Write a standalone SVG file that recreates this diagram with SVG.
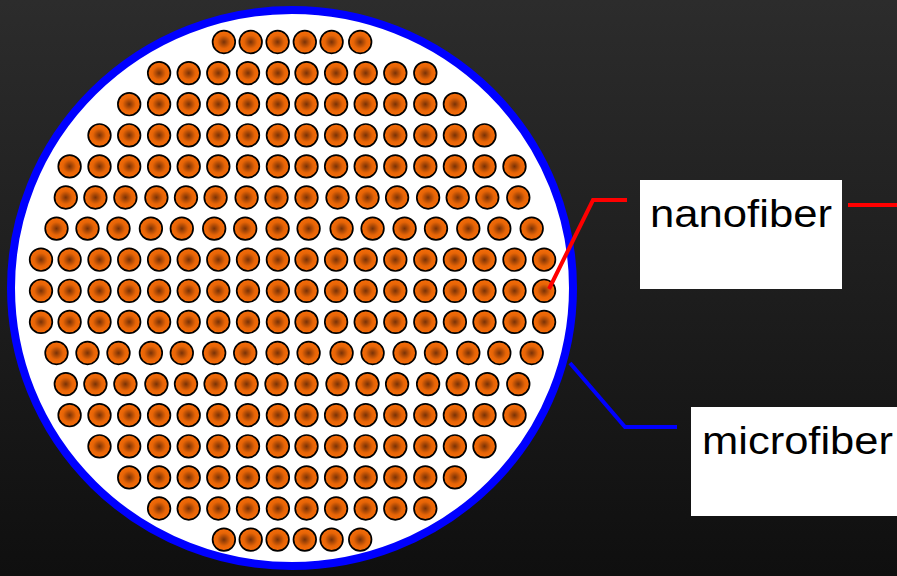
<svg xmlns="http://www.w3.org/2000/svg" xmlns:xlink="http://www.w3.org/1999/xlink" width="897" height="576" viewBox="0 0 897 576">
  <defs>
    <linearGradient id="bg" x1="0" y1="0" x2="0" y2="1">
      <stop offset="0" stop-color="#2c2c2c"/>
      <stop offset="1" stop-color="#0f0f0f"/>
    </linearGradient>
    <radialGradient id="core">
      <stop offset="0" stop-color="#7a3206"/>
      <stop offset="0.58" stop-color="#e66406"/>
      <stop offset="1" stop-color="#f86e0a"/>
    </radialGradient>
    <circle id="nf" class="nano" cx="0" cy="0" r="11.3"/>
  </defs>
  <style>
    .nano { fill: url(#core); stroke: #000; stroke-width: 1.7; }
    .label { fill: #fff; }
    .txt { font-family: "Liberation Sans", Arial, sans-serif; font-size: 38px; fill: #000; }
    .link { fill: none; stroke-width: 4; stroke-linejoin: miter; }
  </style>

  <rect width="897" height="576" fill="url(#bg)"/>

  <!-- outer sheath -->
  <g id="microfiber">
    <ellipse cx="292" cy="288" rx="281" ry="278" fill="#fff" stroke="#0000ff" stroke-width="8"/>
  </g>

  <!-- bundle of inner fibres, row by row -->
  <g id="nanofibers">
    <g id="row1">
      <use href="#nf" x="223.9" y="42"/><use href="#nf" x="250.7" y="42"/><use href="#nf" x="277.6" y="42"/><use href="#nf" x="304.8" y="42"/><use href="#nf" x="331.6" y="42"/><use href="#nf" x="360.2" y="42"/>
    </g>
    <g id="row2">
      <use href="#nf" x="159.1" y="73.1"/><use href="#nf" x="188.7" y="73.1"/><use href="#nf" x="218.3" y="73.1"/><use href="#nf" x="248" y="73.1"/><use href="#nf" x="277.9" y="73.1"/><use href="#nf" x="306.5" y="73.1"/><use href="#nf" x="336.1" y="73.1"/><use href="#nf" x="365.7" y="73.1"/><use href="#nf" x="395.3" y="73.1"/><use href="#nf" x="425.3" y="73.1"/>
    </g>
    <g id="row3">
      <use href="#nf" x="129.2" y="104.2"/><use href="#nf" x="159.1" y="104.2"/><use href="#nf" x="188.7" y="104.2"/><use href="#nf" x="218.3" y="104.2"/><use href="#nf" x="248" y="104.2"/><use href="#nf" x="277.9" y="104.2"/><use href="#nf" x="306.5" y="104.2"/><use href="#nf" x="336.1" y="104.2"/><use href="#nf" x="365.7" y="104.2"/><use href="#nf" x="395.3" y="104.2"/><use href="#nf" x="425.3" y="104.2"/><use href="#nf" x="454.9" y="104.2"/>
    </g>
    <g id="row4">
      <use href="#nf" x="99.5" y="135.3"/><use href="#nf" x="129.2" y="135.3"/><use href="#nf" x="159.1" y="135.3"/><use href="#nf" x="188.7" y="135.3"/><use href="#nf" x="218.3" y="135.3"/><use href="#nf" x="248" y="135.3"/><use href="#nf" x="277.9" y="135.3"/><use href="#nf" x="306.5" y="135.3"/><use href="#nf" x="336.1" y="135.3"/><use href="#nf" x="365.7" y="135.3"/><use href="#nf" x="395.3" y="135.3"/><use href="#nf" x="425.3" y="135.3"/><use href="#nf" x="454.9" y="135.3"/><use href="#nf" x="484.5" y="135.3"/>
    </g>
    <g id="row5">
      <use href="#nf" x="69.6" y="166.4"/><use href="#nf" x="99.5" y="166.4"/><use href="#nf" x="129.2" y="166.4"/><use href="#nf" x="159.1" y="166.4"/><use href="#nf" x="188.7" y="166.4"/><use href="#nf" x="218.3" y="166.4"/><use href="#nf" x="248" y="166.4"/><use href="#nf" x="277.9" y="166.4"/><use href="#nf" x="306.5" y="166.4"/><use href="#nf" x="336.1" y="166.4"/><use href="#nf" x="365.7" y="166.4"/><use href="#nf" x="395.3" y="166.4"/><use href="#nf" x="425.3" y="166.4"/><use href="#nf" x="454.9" y="166.4"/><use href="#nf" x="484.5" y="166.4"/><use href="#nf" x="514.5" y="166.4"/>
    </g>
    <g id="row6">
      <use href="#nf" x="65.8" y="197.5"/><use href="#nf" x="95.4" y="197.5"/><use href="#nf" x="125.4" y="197.5"/><use href="#nf" x="156.4" y="197.5"/><use href="#nf" x="186" y="197.5"/><use href="#nf" x="215.6" y="197.5"/><use href="#nf" x="246.6" y="197.5"/><use href="#nf" x="276.5" y="197.5"/><use href="#nf" x="306.5" y="197.5"/><use href="#nf" x="337.5" y="197.5"/><use href="#nf" x="367.5" y="197.5"/><use href="#nf" x="397.1" y="197.5"/><use href="#nf" x="428.1" y="197.5"/><use href="#nf" x="457.7" y="197.5"/><use href="#nf" x="487.3" y="197.5"/><use href="#nf" x="518.3" y="197.5"/>
    </g>
    <g id="row7">
      <use href="#nf" x="56.5" y="228.6"/><use href="#nf" x="87.5" y="228.6"/><use href="#nf" x="118.5" y="228.6"/><use href="#nf" x="150.9" y="228.6"/><use href="#nf" x="181.8" y="228.6"/><use href="#nf" x="214.2" y="228.6"/><use href="#nf" x="245.2" y="228.6"/><use href="#nf" x="277.6" y="228.6"/><use href="#nf" x="308.6" y="228.6"/><use href="#nf" x="341.6" y="228.6"/><use href="#nf" x="372.6" y="228.6"/><use href="#nf" x="404.6" y="228.6"/><use href="#nf" x="436" y="228.6"/><use href="#nf" x="468.3" y="228.6"/><use href="#nf" x="499.3" y="228.6"/><use href="#nf" x="531.7" y="228.6"/>
    </g>
    <g id="row8">
      <use href="#nf" x="41" y="259.7"/><use href="#nf" x="69.6" y="259.7"/><use href="#nf" x="99.5" y="259.7"/><use href="#nf" x="129.2" y="259.7"/><use href="#nf" x="159.1" y="259.7"/><use href="#nf" x="188.7" y="259.7"/><use href="#nf" x="218.3" y="259.7"/><use href="#nf" x="248" y="259.7"/><use href="#nf" x="277.9" y="259.7"/><use href="#nf" x="306.5" y="259.7"/><use href="#nf" x="336.1" y="259.7"/><use href="#nf" x="365.7" y="259.7"/><use href="#nf" x="395.3" y="259.7"/><use href="#nf" x="425.3" y="259.7"/><use href="#nf" x="454.9" y="259.7"/><use href="#nf" x="484.5" y="259.7"/><use href="#nf" x="514.5" y="259.7"/><use href="#nf" x="544.1" y="259.7"/>
    </g>
    <g id="row9">
      <use href="#nf" x="41" y="290.8"/><use href="#nf" x="69.6" y="290.8"/><use href="#nf" x="99.5" y="290.8"/><use href="#nf" x="129.2" y="290.8"/><use href="#nf" x="159.1" y="290.8"/><use href="#nf" x="188.7" y="290.8"/><use href="#nf" x="218.3" y="290.8"/><use href="#nf" x="248" y="290.8"/><use href="#nf" x="277.9" y="290.8"/><use href="#nf" x="306.5" y="290.8"/><use href="#nf" x="336.1" y="290.8"/><use href="#nf" x="365.7" y="290.8"/><use href="#nf" x="395.3" y="290.8"/><use href="#nf" x="425.3" y="290.8"/><use href="#nf" x="454.9" y="290.8"/><use href="#nf" x="484.5" y="290.8"/><use href="#nf" x="514.5" y="290.8"/><use href="#nf" x="544.1" y="290.8"/>
    </g>
    <g id="row10">
      <use href="#nf" x="41" y="321.9"/><use href="#nf" x="69.6" y="321.9"/><use href="#nf" x="99.5" y="321.9"/><use href="#nf" x="129.2" y="321.9"/><use href="#nf" x="159.1" y="321.9"/><use href="#nf" x="188.7" y="321.9"/><use href="#nf" x="218.3" y="321.9"/><use href="#nf" x="248" y="321.9"/><use href="#nf" x="277.9" y="321.9"/><use href="#nf" x="306.5" y="321.9"/><use href="#nf" x="336.1" y="321.9"/><use href="#nf" x="365.7" y="321.9"/><use href="#nf" x="395.3" y="321.9"/><use href="#nf" x="425.3" y="321.9"/><use href="#nf" x="454.9" y="321.9"/><use href="#nf" x="484.5" y="321.9"/><use href="#nf" x="514.5" y="321.9"/><use href="#nf" x="544.1" y="321.9"/>
    </g>
    <g id="row11">
      <use href="#nf" x="56.5" y="353"/><use href="#nf" x="87.5" y="353"/><use href="#nf" x="118.5" y="353"/><use href="#nf" x="150.9" y="353"/><use href="#nf" x="181.8" y="353"/><use href="#nf" x="214.2" y="353"/><use href="#nf" x="245.2" y="353"/><use href="#nf" x="277.6" y="353"/><use href="#nf" x="308.6" y="353"/><use href="#nf" x="341.6" y="353"/><use href="#nf" x="372.6" y="353"/><use href="#nf" x="404.6" y="353"/><use href="#nf" x="436" y="353"/><use href="#nf" x="468.3" y="353"/><use href="#nf" x="499.3" y="353"/><use href="#nf" x="531.7" y="353"/>
    </g>
    <g id="row12">
      <use href="#nf" x="65.8" y="384.1"/><use href="#nf" x="95.4" y="384.1"/><use href="#nf" x="125.4" y="384.1"/><use href="#nf" x="156.4" y="384.1"/><use href="#nf" x="186" y="384.1"/><use href="#nf" x="215.6" y="384.1"/><use href="#nf" x="246.6" y="384.1"/><use href="#nf" x="276.5" y="384.1"/><use href="#nf" x="306.5" y="384.1"/><use href="#nf" x="337.5" y="384.1"/><use href="#nf" x="367.5" y="384.1"/><use href="#nf" x="397.1" y="384.1"/><use href="#nf" x="428.1" y="384.1"/><use href="#nf" x="457.7" y="384.1"/><use href="#nf" x="487.3" y="384.1"/><use href="#nf" x="518.3" y="384.1"/>
    </g>
    <g id="row13">
      <use href="#nf" x="69.6" y="415.2"/><use href="#nf" x="99.5" y="415.2"/><use href="#nf" x="129.2" y="415.2"/><use href="#nf" x="159.1" y="415.2"/><use href="#nf" x="188.7" y="415.2"/><use href="#nf" x="218.3" y="415.2"/><use href="#nf" x="248" y="415.2"/><use href="#nf" x="277.9" y="415.2"/><use href="#nf" x="306.5" y="415.2"/><use href="#nf" x="336.1" y="415.2"/><use href="#nf" x="365.7" y="415.2"/><use href="#nf" x="395.3" y="415.2"/><use href="#nf" x="425.3" y="415.2"/><use href="#nf" x="454.9" y="415.2"/><use href="#nf" x="484.5" y="415.2"/><use href="#nf" x="514.5" y="415.2"/>
    </g>
    <g id="row14">
      <use href="#nf" x="99.5" y="446.3"/><use href="#nf" x="129.2" y="446.3"/><use href="#nf" x="159.1" y="446.3"/><use href="#nf" x="188.7" y="446.3"/><use href="#nf" x="218.3" y="446.3"/><use href="#nf" x="248" y="446.3"/><use href="#nf" x="277.9" y="446.3"/><use href="#nf" x="306.5" y="446.3"/><use href="#nf" x="336.1" y="446.3"/><use href="#nf" x="365.7" y="446.3"/><use href="#nf" x="395.3" y="446.3"/><use href="#nf" x="425.3" y="446.3"/><use href="#nf" x="454.9" y="446.3"/><use href="#nf" x="484.5" y="446.3"/>
    </g>
    <g id="row15">
      <use href="#nf" x="129.2" y="477.4"/><use href="#nf" x="159.1" y="477.4"/><use href="#nf" x="188.7" y="477.4"/><use href="#nf" x="218.3" y="477.4"/><use href="#nf" x="248" y="477.4"/><use href="#nf" x="277.9" y="477.4"/><use href="#nf" x="306.5" y="477.4"/><use href="#nf" x="336.1" y="477.4"/><use href="#nf" x="365.7" y="477.4"/><use href="#nf" x="395.3" y="477.4"/><use href="#nf" x="425.3" y="477.4"/><use href="#nf" x="454.9" y="477.4"/>
    </g>
    <g id="row16">
      <use href="#nf" x="159.1" y="508.5"/><use href="#nf" x="188.7" y="508.5"/><use href="#nf" x="218.3" y="508.5"/><use href="#nf" x="248" y="508.5"/><use href="#nf" x="277.9" y="508.5"/><use href="#nf" x="306.5" y="508.5"/><use href="#nf" x="336.1" y="508.5"/><use href="#nf" x="365.7" y="508.5"/><use href="#nf" x="395.3" y="508.5"/><use href="#nf" x="425.3" y="508.5"/>
    </g>
    <g id="row17">
      <use href="#nf" x="223.9" y="539.6"/><use href="#nf" x="250.7" y="539.6"/><use href="#nf" x="277.6" y="539.6"/><use href="#nf" x="304.8" y="539.6"/><use href="#nf" x="331.6" y="539.6"/><use href="#nf" x="360.2" y="539.6"/>
    </g>
  </g>

  <!-- leader lines -->
  <g id="connectors">
    <path class="link" stroke="#ff0000" d="M549,289 L593,200 L627,200"/>
    <path class="link" stroke="#ff0000" d="M848,205 L897,205"/>
    <path class="link" stroke="#0000ff" d="M570,363 L625,427 L677,427"/>
  </g>

  <!-- callout labels -->
  <g id="label-nanofiber">
    <rect class="label" x="640" y="180" width="202" height="109"/>
    <text class="txt" x="650" y="227" textLength="182" lengthAdjust="spacingAndGlyphs">nanofiber</text>
  </g>
  <g id="label-microfiber">
    <rect class="label" x="691" y="407" width="206" height="109"/>
    <text class="txt" x="702" y="454" textLength="191" lengthAdjust="spacingAndGlyphs">microfiber</text>
  </g>
</svg>
